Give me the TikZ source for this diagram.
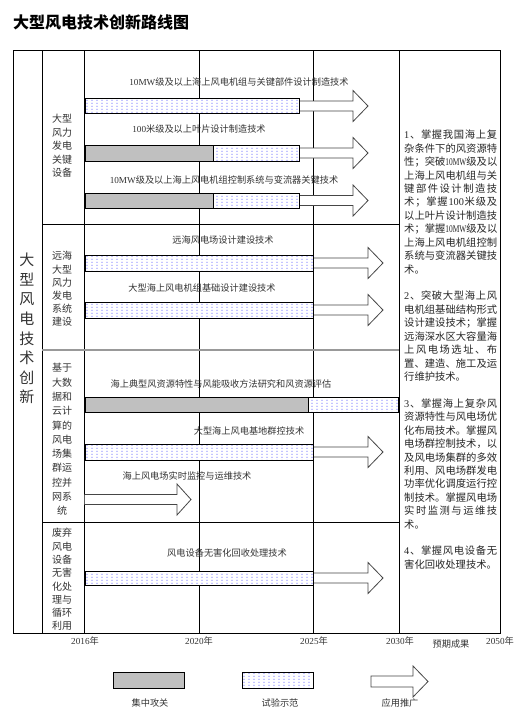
\documentclass[tikz,border=0pt]{standalone}
\usepackage{fontspec}
\usepackage{graphicx}
\setmainfont{Noto Sans CJK SC}
\newfontfamily\lat{Liberation Serif}
\usetikzlibrary{patterns}
\pgfdeclarepatternformonly{bdots}{\pgfpointorigin}{\pgfpoint{4.5pt}{3pt}}{\pgfpoint{4.5pt}{3pt}}{%
  \pgfpathrectangle{\pgfpoint{0.6pt}{0.6pt}}{\pgfpoint{0.9pt}{0.9pt}}\pgfusepath{fill}}
\definecolor{barg}{RGB}{192,192,192}
\definecolor{arrc}{RGB}{70,70,70}
\makeatletter
\def\spr#1{\spr@#1\@nil\unskip}
\def\spr@#1{\ifx\@nil#1\else{#1}\hfil\expandafter\spr@\fi}
\makeatother
\newcommand\jl[1]{\makebox[93pt][s]{\spr{#1}}}
\newcommand\nar[1]{\scalebox{0.72}[1]{\lat #1}}
\tikzset{
  grid/.style={line width=0.9pt, draw=black},
  gbar/.style={fill=barg, draw=black, line width=0.8pt},
  bartxt/.style={inner sep=0pt, font=\fontsize{9.2}{11}\selectfont, text=black!80},
  lab/.style={inner sep=0pt, font=\fontsize{10}{12}\selectfont, text=black!80},
  big/.style={inner sep=0pt, font=\fontsize{15}{18}\selectfont, text=black!80},
  rt/.style={anchor=west, inner sep=0pt, font=\fontsize{10.3}{12}\selectfont, text=black!85},
  arrowst/.style={fill=white, draw=arrc, line width=0.8pt, line join=miter}
}
\newcommand\dbar[4]{\fill[white] (#1,#2) rectangle (#3,#4);
  \draw[pattern=bdots, pattern color=blue, draw=black, line width=0.8pt] (#1,#2) rectangle (#3,#4);}
\newcommand\harrow[4]{\filldraw[arrowst] (#1,#4-5) -- (#2,#4-5) -- (#2,#4-15.5) -- (#3,#4) -- (#2,#4+15.5) -- (#2,#4+5) -- (#1,#4+5);}
\newcommand\rl[2]{\node[rt] (rt#1) at (404,135+13.42*#1) {\jl{#2}};}
\newcommand\rn[2]{\node[rt] (rt#1) at (404,135+13.42*#1) {#2};}
\begin{document}
\begin{tikzpicture}[x=1pt,y=-1pt]
\useasboundingbox (0,0) rectangle (516,710);
\fill[white] (0,0) rectangle (516,710);
% title
\node[anchor=west, inner sep=0pt, font=\fontsize{16}{18}\selectfont\bfseries] (title) at (13,22) {大型风电技术创新路线图};
% table grid
\draw[grid] (13,50) rectangle (500,633);
\foreach \x in {42,84,199,313,399} \draw[grid] (\x,50) -- (\x,633);
\draw[grid] (42,224) -- (399,224);
\draw[draw=black!40, line width=1.3pt] (42,350) -- (399,350);
\draw[grid] (42,522) -- (399,522);
% left big column
\foreach \t [count=\i from 0] in {大,型,风,电,技,术,创,新}
  \node[big] (b\i) at (27,260+19.6*\i) {\t};
% category labels
\foreach \t [count=\i from 0] in {大型,风力,发电,关键,设备}
  \node[lab] (ra\i) at (62,119+13.5*\i) {\t};
\foreach \t [count=\i from 0] in {远海,大型,风力,发电,系统,建设}
  \node[lab] (rb\i) at (62,256+13.2*\i) {\t};
\foreach \t [count=\i from 0] in {基于,大数,据和,云计,算的,风电,场集,群运,控并,网系,统}
  \node[lab] (rc\i) at (62,368+14.3*\i) {\t};
\foreach \t [count=\i from 0] in {废弃,风电,设备,无害,化处,理与,循环,利用}
  \node[lab] (rd\i) at (62,533+13.3*\i) {\t};
% row 1
\node[bartxt] (t1) at (239,82) {{\lat 10MW}级及以上海上风电机组与关键部件设计制造技术};
\harrow{299}{353}{368}{106}
\dbar{85}{98}{299}{113}
\node[bartxt] (t2) at (199,129) {{\lat 100}米级及以上叶片设计制造技术};
\harrow{299}{353}{368}{153}
\draw[gbar] (85,145) rectangle (213,161);
\dbar{213}{145}{299}{161}
\node[bartxt] (t3) at (224,180) {{\lat 10MW}级及以上海上风电机组控制系统与变流器关键技术};
\harrow{299}{353}{368}{200.5}
\draw[gbar] (85,193) rectangle (213,208);
\dbar{213}{193}{299}{208}
% row 2
\node[bartxt] (t4) at (223,240) {远海风电场设计建设技术};
\harrow{313}{368}{383}{263}
\dbar{85}{255}{313}{271}
\node[bartxt] (t5) at (202,288) {大型海上风电机组基础设计建设技术};
\harrow{313}{368}{383}{310}
\dbar{85}{302}{313}{318}
% row 3
\node[bartxt] (t6) at (221,384) {海上典型风资源特性与风能吸收方法研究和风资源评估};
\draw[gbar] (85,397) rectangle (308,412);
\dbar{308}{397}{398}{412}
\node[bartxt] (t7) at (249,431) {大型海上风电基地群控技术};
\harrow{313}{368}{383}{452}
\dbar{85}{444}{313}{460}
\node[bartxt] (t8) at (187,476) {海上风电场实时监控与运维技术};
\harrow{84.5}{177}{191}{499.5}
% row 4
\node[bartxt] (t9) at (227,553) {风电设备无害化回收处理技术};
\harrow{313}{368}{383}{578}
\dbar{85}{571}{313}{585}
% right column
\rl{0}{{\lat 1}、掌握我国海上复}
\rl{1}{杂条件下的风资源特}
\rl{2}{性；突破{\nar{10MW}}级及以}
\rl{3}{上海上风电机组与关}
\rl{4}{键部件设计制造技}
\rl{5}{术；掌握{\lat 100}米级及}
\rl{6}{以上叶片设计制造技}
\rl{7}{术；掌握{\nar{10MW}}级及以}
\rl{8}{上海上风电机组控制}
\rl{9}{系统与变流器关键技}
\rn{10}{术。}
\rl{12}{{\lat 2}、突破大型海上风}
\rl{13}{电机组基础结构形式}
\rl{14}{设计建设技术；掌握}
\rl{15}{远海深水区大容量海}
\rl{16}{上风电场选址、布}
\rl{17}{置、建造、施工及运}
\rn{18}{行维护技术。}
\rl{20}{{\lat 3}、掌握海上复杂风}
\rl{21}{资源特性与风电场优}
\rl{22}{化布局技术。掌握风}
\rl{23}{电场群控制技术，以}
\rl{24}{及风电场集群的多效}
\rl{25}{利用、风电场群发电}
\rl{26}{功率优化调度运行控}
\rl{27}{制技术。掌握风电场}
\rl{28}{实时监测与运维技}
\rn{29}{术。}
\rl{31}{{\lat 4}、掌握风电设备无}
\rn{32}{害化回收处理技术。}
% axis
\node[bartxt] (y2016) at (85,641) {{\lat 2016}年};
\node[bartxt] (y2020) at (199,641) {{\lat 2020}年};
\node[bartxt] (y2025) at (314,641) {{\lat 2025}年};
\node[bartxt] (y2030) at (400,641) {{\lat 2030}年};
\node[bartxt] (yqc) at (451,644) {预期成果};
\node[bartxt] (y2050) at (500,641) {{\lat 2050}年};
% legend
\draw[gbar] (113,672) rectangle (184,688);
\dbar{242}{672}{313}{688}
\filldraw[arrowst] (371,676) -- (413,676) -- (413,666) -- (428,681.5) -- (413,697) -- (413,687) -- (371,687) -- cycle;
\node[bartxt] (lg1) at (150,703) {集中攻关};
\node[bartxt] (lg2) at (280,703) {试验示范};
\node[bartxt] (lg3) at (400,703) {应用推广};
\end{tikzpicture}
\end{document}
